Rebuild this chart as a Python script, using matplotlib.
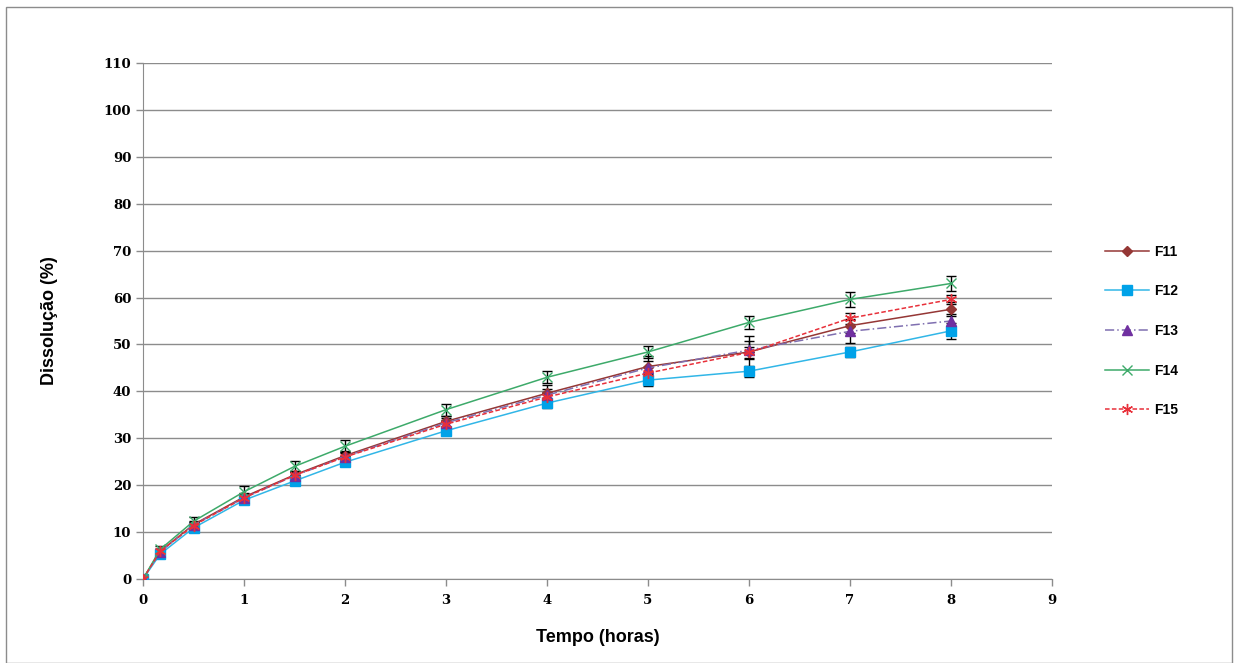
import numpy as np
import matplotlib
matplotlib.use("Agg")
import matplotlib.pyplot as plt
from matplotlib.patches import Rectangle

# dissolution profiles (%), mean and std, per formulation
tempo = [0, 0.17, 0.5, 1, 1.5, 2, 3, 4, 5, 6, 7, 8]

F11 = [0, 5.9, 11.6, 17.5, 22.2, 26.3, 33.6, 39.6, 45.3, 48.4, 54.0, 57.5]
F12 = [0, 5.3, 10.9, 16.8, 20.9, 24.9, 31.6, 37.5, 42.4, 44.3, 48.4, 52.9]
F13 = [0, 5.8, 11.5, 17.3, 22.0, 26.1, 33.3, 39.2, 45.0, 48.8, 52.8, 55.0]
F14 = [0, 6.3, 12.3, 18.6, 24.0, 28.3, 36.1, 43.0, 48.4, 54.7, 59.6, 63.0]
F15 = [0, 5.9, 11.4, 17.3, 22.1, 26.0, 33.0, 38.8, 43.9, 48.3, 55.6, 59.6]

F11_sd = [0.3, 0.6, 0.8, 0.8, 0.9, 1.0, 1.2, 1.8, 2.2, 3.5, 1.5, 1.5]
F12_sd = [0.3, 0.5, 0.6, 0.6, 0.6, 0.7, 0.8, 1.0, 1.2, 1.2, 1.0, 1.7]
F13_sd = [0.3, 0.5, 0.7, 0.8, 0.8, 0.9, 1.0, 1.2, 1.5, 2.0, 2.5, 1.5]
F14_sd = [0.3, 0.8, 1.0, 1.2, 1.2, 1.3, 1.3, 1.3, 1.2, 1.4, 1.6, 1.6]
F15_sd = [0.3, 0.6, 0.8, 0.8, 0.9, 0.9, 1.0, 1.0, 1.2, 1.2, 1.2, 1.0]

labels = ["F11", "F12", "F13", "F14", "F15"]

series = [
    (F11, F11_sd, dict(color="#953735", marker="D", ms=5, ls="-", mfc="#953735")),
    (F12, F12_sd, dict(color="#31B6E7", marker="s", ms=7, ls="-", mfc="#00A2E8", mec="#00A2E8")),
    (F13, F13_sd, dict(color="#7F6FB0", marker="^", ms=7, ls=(0, (6, 2, 1, 2)), mfc="#7030A0", mec="#7030A0")),
    (F14, F14_sd, dict(color="#3DAA6A", marker="x", ms=6.5, ls="-", mew=1.0)),
    (F15, F15_sd, dict(color="#E8303A", marker=(6, 2, 0), ms=8, ls=(0, (3, 1.5)), mew=1.0, mec="#E8303A")),
]

fig = plt.figure(figsize=(12.36, 6.63), dpi=100)
ax = fig.add_axes([143 / 1236, 1 - 579 / 663, (1052 - 143) / 1236, (579 - 63) / 663])

handles = []
for (vals, sd, style), lab in zip(series, labels):
    ax.errorbar(tempo, vals, yerr=sd, fmt="none", ecolor="black", elinewidth=1.0,
                capsize=3.5, capthick=1.0, zorder=3)
    h, = ax.plot(tempo, vals, lw=1.1, label=lab, zorder=4, **style)
    handles.append(h)

ax.set_xlim(0, 9)
ax.set_ylim(0, 110)
ax.set_xticks(range(0, 10))
ax.set_yticks(range(0, 111, 10))
ax.grid(axis="y", color="#8c8c8c", lw=1.0)
ax.set_axisbelow(True)
for side in ["top", "right"]:
    ax.spines[side].set_visible(False)
ax.spines["left"].set_color("#8c8c8c")
ax.spines["bottom"].set_color("#8c8c8c")
ax.tick_params(axis="both", colors="#8c8c8c", length=5, width=1.0, labelcolor="black")
ax.tick_params(axis="x", pad=6)
for t in ax.get_xticklabels() + ax.get_yticklabels():
    t.set_fontfamily("DejaVu Serif")
    t.set_fontweight("bold")
    t.set_fontsize(9.5)

ax.set_xlabel("Tempo (horas)", fontsize=13, fontweight="bold", family="Liberation Sans", labelpad=16)
ax.set_ylabel("Dissolução (%)", fontsize=13, fontweight="bold", family="Liberation Sans", labelpad=33)

fig.legend(handles=handles, loc="upper left", bbox_to_anchor=(1092 / 1236, 1 - 232 / 663),
           frameon=False, labelspacing=1.85, handlelength=3.2, handletextpad=0.4,
           prop=dict(family="Liberation Sans", weight="bold", size=10))

# chart frame
fig.patches.append(Rectangle((6 / 1236, 0), 1226 / 1236, 1 - 7 / 663, transform=fig.transFigure,
                             fill=False, edgecolor="#8c8c8c", lw=1.0))

fig.savefig("out.png", dpi=100)
